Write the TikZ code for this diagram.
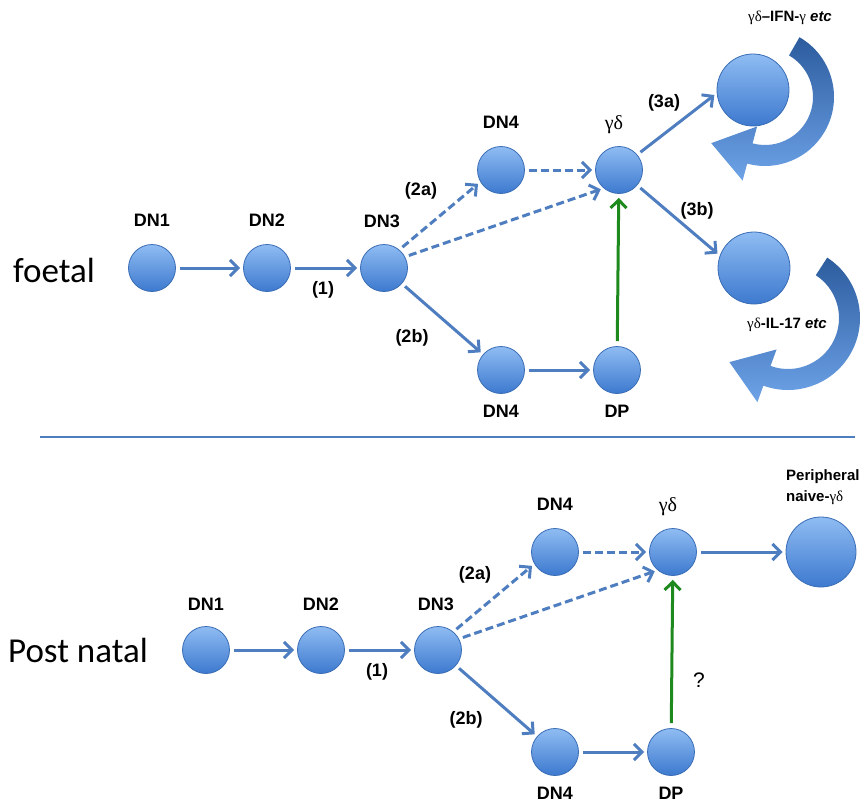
\documentclass[tikz,border=0pt]{standalone}
\usepackage{fontspec}
\setmainfont{Liberation Sans}
\newfontfamily\greekfont{Liberation Serif}
\newfontfamily\calfont{Carlito}
\usetikzlibrary{arrows.meta,calc}
\definecolor{cellhi}{HTML}{8FBCF2}
\definecolor{cello}{HTML}{3D79CF}
\definecolor{cellrim}{HTML}{3A6DB5}
\definecolor{flow}{HTML}{4E7EBF}
\definecolor{convert}{HTML}{1E8A1E}
\definecolor{loopdark}{HTML}{2C5C9E}
\definecolor{looplight}{HTML}{6EA3E8}
\begin{document}
\begin{tikzpicture}[x=1pt,y=1pt,
  cell/.style={circle, draw=cellrim, line width=0.8pt, top color=cellhi, bottom color=cello, minimum size=47pt, inner sep=0pt},
  bigcell/.style={cell, minimum size=72pt},
  lab/.style={font=\bfseries\fontsize{18}{21}\selectfont, inner sep=0pt},
  smalllab/.style={font=\bfseries\fontsize{15}{19}\selectfont, inner sep=0pt},
  glab/.style={font=\greekfont\fontsize{20}{22}\selectfont, inner sep=0pt},
  side/.style={font=\calfont\fontsize{35}{40}\selectfont, inner sep=0pt},
  flowarrow/.style={draw=flow, line width=3pt, -{Straight Barb[length=8pt,width=16pt]}, shorten <=4pt, shorten >=3pt},
  dasharrow/.style={flowarrow, dash pattern=on 8pt off 4pt},
  greenarrow/.style={draw=convert, line width=3pt, -{Straight Barb[length=8pt,width=16pt]}, shorten <=5pt, shorten >=4pt},
  loop/.style={top color=loopdark, bottom color=looplight, draw=none},
  rule/.style={draw=flow, line width=2.8pt}
]
\useasboundingbox (0,0) rectangle (863,-811);

% ---------------- foetal pathway ----------------
\node[side] (foetal) at (54,-270) {foetal};
\node[cell] (fdn1) at (152,-268) {};
\node[cell] (fdn2) at (267,-268) {};
\node[cell] (fdn3) at (384,-268) {};
\node[cell] (fdn4a) at (501,-170) {};
\node[cell] (fgd) at (619,-170) {};
\node[cell] (fdn4b) at (501,-370) {};
\node[cell] (fdp) at (617,-370) {};
\node[bigcell] (fifn) at (753,-90) {};
\node[bigcell] (fil) at (754,-268) {};

\node[lab] (fdn1l) at (152,-220) {DN1};
\node[lab] (fdn2l) at (267,-220) {DN2};
\node[lab] (fdn3l) at (382,-221) {DN3};
\node[lab] (fdn4al) at (501,-122) {DN4};
\node[glab] (fgdl) at (614,-125) {γδ};
\node[lab] (fdn4bl) at (501,-411) {DN4};
\node[lab] (fdpl) at (617,-411) {DP};
\node[smalllab] (fifnl) at (790,-18) {{\greekfont\mdseries γδ}–IFN-{\greekfont\mdseries γ} \textit{etc}};
\node[smalllab] (fill) at (787,-325) {{\greekfont\mdseries γδ}-IL-17 \textit{etc}};

\node[lab] (fs1) at (323,-290) {(1)};
\node[lab] (fs2a) at (421,-191) {(2a)};
\node[lab] (fs2b) at (412,-338) {(2b)};
\node[lab] (fs3a) at (664,-103) {(3a)};
\node[lab] (fs3b) at (697,-211) {(3b)};

\draw[flowarrow] (fdn1) -- (fdn2);
\draw[flowarrow] (fdn2) -- (fdn3);
\draw[dasharrow] (fdn3.50) -- (fdn4a.210);
\draw[dasharrow] (fdn3.28) -- (fgd.230);
\draw[dasharrow] (fdn4a) -- (fgd);
\draw[flowarrow] (fdn3) -- (fdn4b);
\draw[flowarrow] (fdn4b) -- (fdp);
\draw[greenarrow] (fdp) -- (fgd);
\draw[flowarrow] (fgd.40) -- (fifn.185);
\draw[flowarrow] (fgd.-40) -- (fil.160);

% self-renewal loops
\coordinate (loopA) at (765,-97);
\path[loop]
  ($(loopA)+(60:69)$) arc[start angle=60, end angle=-105, radius=69]
  -- ($(loopA)+(-105:86.5)$)
  -- ($(loopA)+(-105:58.5)+(165:40)$)
  -- ($(loopA)+(-105:30.5)$)
  -- ($(loopA)+(-105:48)$)
  arc[start angle=-105, end angle=60, radius=48]
  -- cycle;
\coordinate (loopB) at (788,-318);
\path[loop]
  ($(loopB)+(57:72)$) arc[start angle=57, end angle=-110, radius=72]
  -- ($(loopB)+(-110:89.5)$)
  -- ($(loopB)+(-110:61.5)+(160:40)$)
  -- ($(loopB)+(-110:33.5)$)
  -- ($(loopB)+(-110:51)$)
  arc[start angle=-110, end angle=57, radius=51]
  -- cycle;

% ---------------- divider ----------------
\coordinate (divl) at (40,-437);
\coordinate (divr) at (855,-437);
\draw[rule] (divl) -- (divr);

% ---------------- post natal pathway ----------------
\node[side] (postnatal) at (78,-650) {Post natal};
\node[cell] (pdn1) at (206,-650) {};
\node[cell] (pdn2) at (321,-650) {};
\node[cell] (pdn3) at (438,-650) {};
\node[cell] (pdn4a) at (555,-552) {};
\node[cell] (pgd) at (673,-552) {};
\node[cell] (pdn4b) at (555,-752) {};
\node[cell] (pdp) at (671,-752) {};
\node[cell, minimum size=70pt] (pper) at (821,-552) {};

\node[lab] (pdn1l) at (206,-604) {DN1};
\node[lab] (pdn2l) at (321,-604) {DN2};
\node[lab] (pdn3l) at (436,-604) {DN3};
\node[lab] (pdn4al) at (555,-504) {DN4};
\node[glab] (pgdl) at (668,-507) {γδ};
\node[lab] (pdn4bl) at (555,-793) {DN4};
\node[lab] (pdpl) at (671,-793) {DP};
\node[smalllab, anchor=west] (pperl1) at (786,-477) {Peripheral};
\node[smalllab, anchor=west] (pperl2) at (786,-498) {naive-{\greekfont\mdseries γδ}};

\node[lab] (ps1) at (377,-672) {(1)};
\node[lab] (ps2a) at (475,-575) {(2a)};
\node[lab] (ps2b) at (466,-720) {(2b)};
\node[font=\fontsize{21}{24}\selectfont, inner sep=0pt] (pq) at (699,-680) {?};

\draw[flowarrow] (pdn1) -- (pdn2);
\draw[flowarrow] (pdn2) -- (pdn3);
\draw[dasharrow] (pdn3.50) -- (pdn4a.210);
\draw[dasharrow] (pdn3.28) -- (pgd.230);
\draw[dasharrow] (pdn4a) -- (pgd);
\draw[flowarrow] (pdn3) -- (pdn4b);
\draw[flowarrow] (pdn4b) -- (pdp);
\draw[greenarrow] (pdp) -- (pgd);
\draw[flowarrow] (pgd) -- (pper);
\end{tikzpicture}
\end{document}
